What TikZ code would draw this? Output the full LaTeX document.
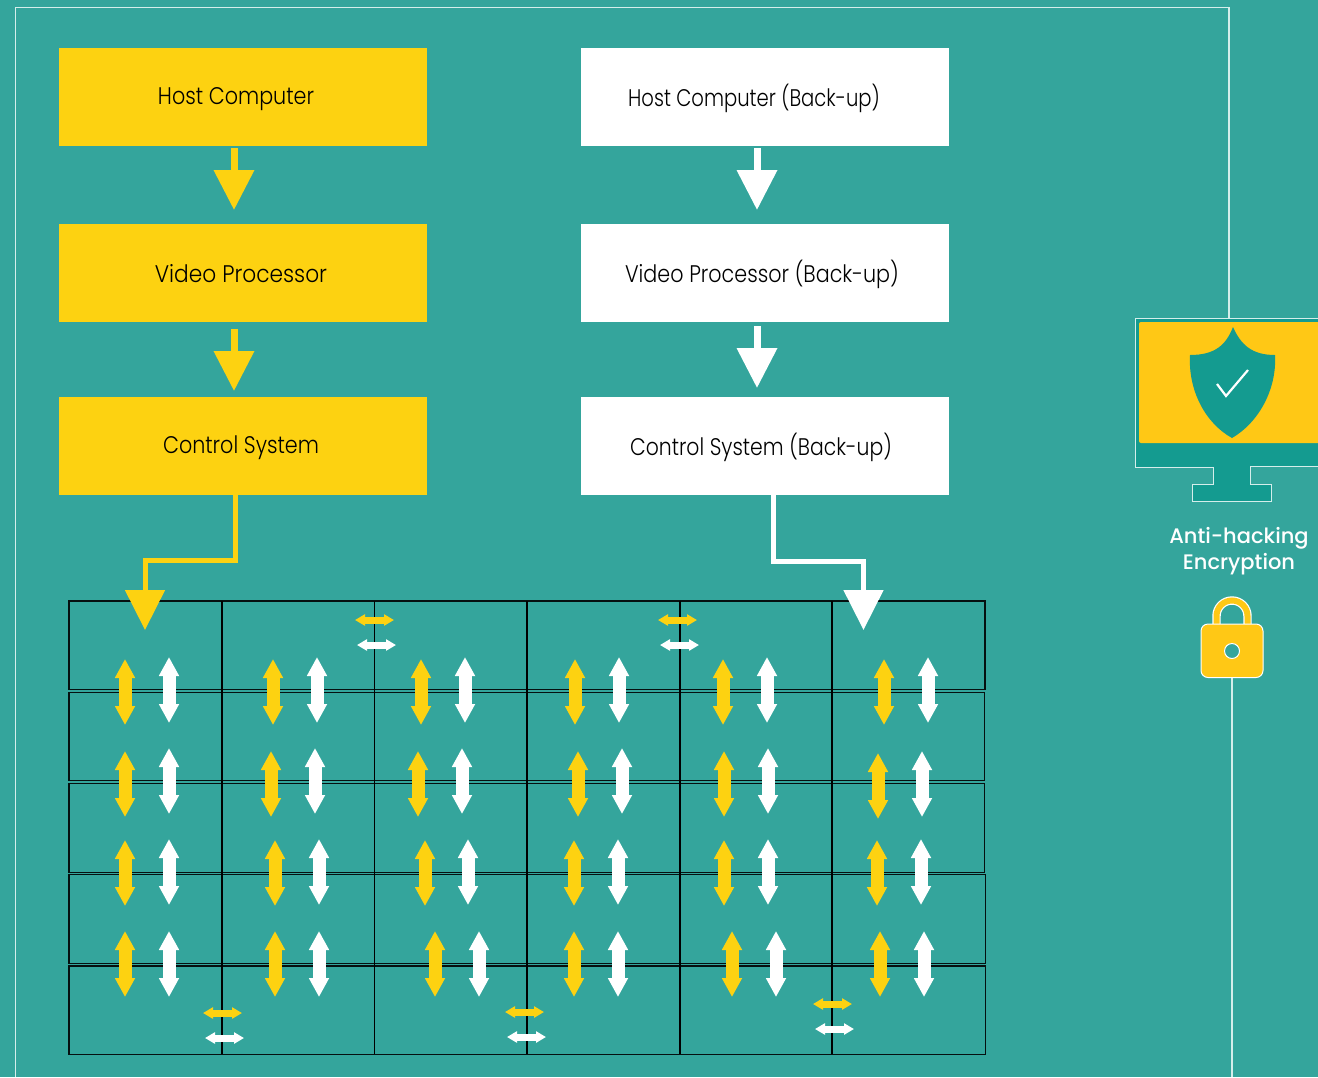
\documentclass[tikz,border=0pt]{standalone}
\usepackage{fontspec}
\usetikzlibrary{arrows.meta,positioning}
\IfFontExistsTF{Poppins Light}{\newfontfamily\boxfont[FakeStretch=0.862]{Poppins Light}}{\newfontfamily\boxfont[FakeStretch=0.862]{Poppins}}
\IfFontExistsTF{Poppins Medium}{\newfontfamily\capfont{Poppins Medium}}{\newfontfamily\capfont{Poppins}}
\definecolor{bgteal}{HTML}{34A59C}
\definecolor{darkteal}{HTML}{149B90}
\definecolor{sunny}{HTML}{FDD211}
\definecolor{amber}{HTML}{FFC815}
\definecolor{paleline}{HTML}{D5EEEB}
\tikzset{
  x=1pt,y=-1pt,
  panel/.style={minimum width=368pt,minimum height=98pt,inner sep=0pt,anchor=center},
  yellowbox/.style={panel,fill=sunny},
  whitebox/.style={panel,fill=white},
  lbl/.style={font=\boxfont\fontsize{24}{26}\selectfont,text=black,inner sep=0pt,anchor=base},
  flow/.style={line width=7pt,-{Triangle[length=40pt,width=39pt]}},
  vdouble/.style={line width=13pt,{Triangle[length=19pt,width=19pt]}-{Triangle[length=19pt,width=19pt]}},
  hdouble/.style={line width=7pt,{Triangle[length=10pt,width=11pt]}-{Triangle[length=10pt,width=11pt]}},
  cell/.style={draw=black!90!bgteal,line width=1.2pt},
  divider/.style={draw=black,line width=1.4pt},
  frame/.style={draw=paleline,line width=1.2pt},
}
\begin{document}
\begin{tikzpicture}
\useasboundingbox (0,0) rectangle (1318,1077);
\clip (0,0) rectangle (1318,1077);
\fill[bgteal] (0,0) rectangle (1318,1077);
% frame
\draw[frame] (15.5,1077) -- (15.5,7.5) -- (1229,7.5) -- (1229,318);
\draw[frame] (1232,678) -- (1232,1077);
% boxes
\node[yellowbox] (hc) at (243,97) {};
\node[yellowbox] (vp) at (243,273) {};
\node[yellowbox] (cs) at (243,446) {};
\node[whitebox] (hcb) at (765,97) {};
\node[whitebox] (vpb) at (765,273) {};
\node[whitebox] (csb) at (765,446) {};
\node[lbl] (t1) at (236,104) {Host Computer};
\node[lbl,transform shape,xscale=1.05] (t2) at (241,282) {Video Processor};
\node[lbl] (t3) at (241,453) {Control System};
\node[lbl,transform shape,xscale=0.947] (t4) at (754,106) {Host Computer (Back-up)};
\node[lbl] (t5) at (762,282) {Video Processor (Back-up)};
\node[lbl,transform shape,xscale=0.985] (t6) at (761,455) {Control System (Back-up)};
% grid
\foreach \t/\b/\r in {601/689.7/985,692.3/780.7/984.5,783.3/872.3/984.5,874.7/963.7/985.5,966/1054.3/985.5}{
  \draw[cell] (69,\t) rectangle (\r,\b);
}
\foreach \x in {222,374.5,527,680,832}{
  \draw[divider] (\x,601) -- (\x,1054.3);
}
% connectors
\coordinate (a1) at (234,148); \coordinate (a2) at (234,210);
\coordinate (a3) at (234,329); \coordinate (a4) at (234,391);
\coordinate (b1) at (757,148); \coordinate (b2) at (757,210);
\coordinate (b3) at (757,326); \coordinate (b4) at (757,388);
\coordinate (c1) at (235.5,495); \coordinate (c2) at (145,630);
\coordinate (d1) at (773,495); \coordinate (d2) at (863.5,630);
\draw[flow,sunny] (a1) -- (a2);
\draw[flow,sunny] (a3) -- (a4);
\draw[flow,white] (b1) -- (b2);
\draw[flow,white] (b3) -- (b4);
\draw[flow,sunny,line width=5pt] (c1) |- (145,560) -- (c2);
\draw[flow,white,line width=5pt] (d1) |- (863.5,561.5) -- (d2);
% vertical double arrows: x of yellow, x of white, top of yellow, top of white
\foreach \y/\w/\t/\u in {
 125/169/659/657,273/317/659/657,421/465/659/657,575/619/659/657,723/767/659/657,884/928/659/657,
 125/169/751/748,271/315/751/748,418/462/751/748,578/622/751/748,724/768/751/748,878/922/753/751,
 125/169/840/839,275/319/840/839,425/468/840/839,574/618/840/839,724/768/840/839,877/921/840/839,
 125/169/931/931,275/319/931/931,435/479/931/931,574/618/931/931,732/776/931/931,880/924/931/931}{
  \draw[vdouble,sunny] (\y,\t) -- (\y,\t+66);
  \draw[vdouble,white] (\w,\u) -- (\w,\u+66);
}
% horizontal double arrows
\foreach \x/\yy in {355/620,658/620,203/1013,505/1012,813/1004}{
  \draw[hdouble,sunny] (\x,\yy) -- (\x+39,\yy);
  \draw[hdouble,white] (\x+2,\yy+25) -- (\x+41,\yy+25);
}
% monitor
\fill[darkteal] (1135,318) -- (1318,318) -- (1318,466) -- (1250,466) -- (1250,484) -- (1271,484) -- (1271,501) -- (1192,501) -- (1192,484) -- (1213,484) -- (1213,467) -- (1135,467) -- cycle;
\draw[frame,line width=1pt] (1318,318) -- (1135,318) -- (1135,467) -- (1213,467) -- (1213,484) -- (1192,484) -- (1192,501) -- (1271,501) -- (1271,484) -- (1250,484) -- (1250,466) -- (1318,466);
\fill[amber,rounded corners=2pt] (1139,322) rectangle (1325,443);
% shield
\fill[darkteal] (1233,327) .. controls (1226,345) and (1215,355) .. (1190,355)
  .. controls (1188,390) and (1205,423) .. (1232,438)
  .. controls (1258,423) and (1277,390) .. (1275,355)
  .. controls (1252,355) and (1241,345) .. (1233,327) -- cycle;
\draw[white,line width=2.2pt] (1217,384) -- (1226,396) -- (1248,370);
% caption
\node[font=\capfont\fontsize{21}{26}\selectfont,text=white,align=center,inner sep=0pt] (cap) at (1239,551) {Anti-hacking\\Encryption};
% lock
\draw[white,line width=8.4pt] (1216.5,630) -- (1216.5,616) arc[start angle=180,end angle=360,radius=15.5] -- (1247.5,630);
\draw[amber,line width=6pt] (1216.5,630) -- (1216.5,616) arc[start angle=180,end angle=360,radius=15.5] -- (1247.5,630);
\fill[amber,draw=white,line width=1pt,rounded corners=7pt] (1201,624) rectangle (1263,677.5);
\fill[bgteal,draw=white,line width=1pt] (1232,651) circle (7.5);
\end{tikzpicture}
\end{document}
